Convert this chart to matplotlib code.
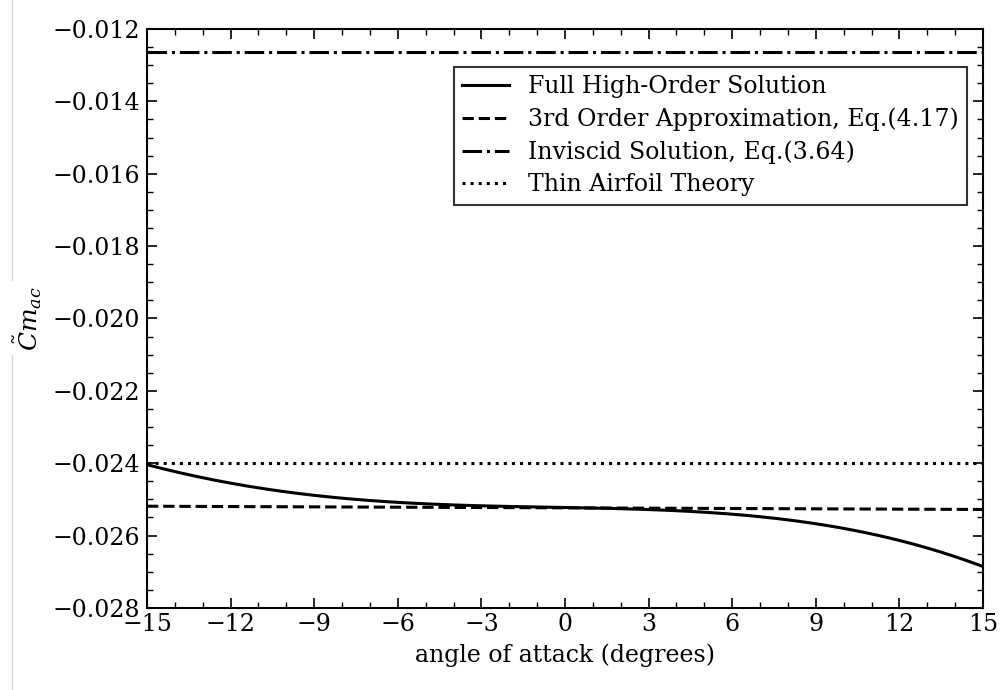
import numpy as np
import matplotlib
matplotlib.use('Agg')
import matplotlib.pyplot as plt
from matplotlib.ticker import MultipleLocator
from matplotlib.lines import Line2D

plt.rcParams['font.family'] = 'DejaVu Serif'
plt.rcParams['mathtext.fontset'] = 'dejavuserif'

# values
alpha = [-15, -12, -9, -6, -3, 0, 3, 6, 9, 12, 15]
cm_full = [-0.02404, -0.02456, -0.02488, -0.02508, -0.02519, -0.02523,
           -0.02527, -0.02540, -0.02570, -0.02612, -0.02686]
alpha_ends = [-15, 15]
cm_third = [-0.02519, -0.02528]
cm_inviscid = [-0.01264, -0.01264]
cm_thin = [-0.0240, -0.0240]

fig = plt.figure(figsize=(10, 6.9), dpi=100)
ax = fig.add_axes([0.147, 0.119, 0.836, 0.839])

# smooth the full solution through the read points
a_fine = np.linspace(-15, 15, 200)
coef = np.polyfit(alpha, cm_full, 5)
ax.plot(a_fine, np.polyval(coef, a_fine), 'k-', lw=2.2, label='Full High-Order Solution')
ax.plot(alpha_ends, cm_third, 'k--', lw=2.2, label='3rd Order Approximation, Eq.(4.17)')
ax.plot(alpha_ends, cm_inviscid, 'k-.', lw=2.2, label='Inviscid Solution, Eq.(3.64)')
ax.plot(alpha_ends, cm_thin, 'k:', lw=2.2, label='Thin Airfoil Theory')

ax.set_xlim(-15, 15)
ax.set_ylim(-0.028, -0.012)
ax.xaxis.set_major_locator(MultipleLocator(3))
ax.xaxis.set_minor_locator(MultipleLocator(1))
ax.yaxis.set_major_locator(MultipleLocator(0.002))
ax.yaxis.set_minor_locator(MultipleLocator(0.0005))
ax.tick_params(which='both', direction='in', top=True, right=True, labelsize=17)
ax.tick_params(which='major', length=7, width=1.2, pad=5)
ax.tick_params(which='minor', length=4, width=1.0)
ax.tick_params(axis='x', which='major', pad=4)
for s in ax.spines.values():
    s.set_linewidth(1.5)

ax.set_xlabel('angle of attack (degrees)', fontsize=17, labelpad=5)
ax.set_ylabel(r'$\tilde{C}m_{ac}$', fontsize=18, labelpad=6)

leg = ax.legend(loc='upper right', bbox_to_anchor=(0.981, 0.935), borderaxespad=0,
                fontsize=17, fancybox=False, framealpha=1, edgecolor='#333333',
                handlelength=2.0, labelspacing=0.4, borderpad=0.35)
leg.get_frame().set_linewidth(1.5)

# faint vertical rule at the left edge of the reference image
fig.add_artist(Line2D([0.012, 0.012], [1.0, 1 - 280 / 690], color='#d8d8d8', lw=1))
fig.add_artist(Line2D([0.012, 0.012], [1 - 355 / 690, 0.0], color='#d8d8d8', lw=1))

fig.savefig('out.png', dpi=100)
